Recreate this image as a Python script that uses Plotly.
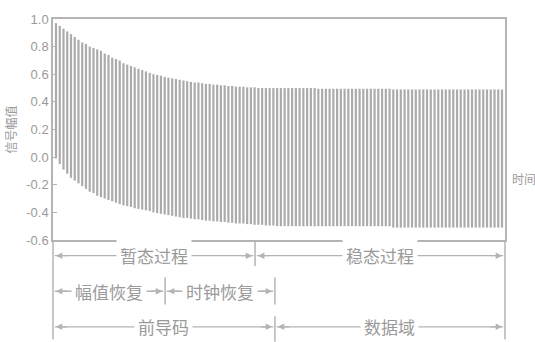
import plotly.graph_objects as go

# ---- data (one vertical stroke per signal cycle) ----
upper_peaks = (
    [0.97, 0.95, 0.93, 0.91, 0.89, 0.87, 0.85, 0.83, 0.82, 0.80,
     0.79, 0.78, 0.77, 0.75, 0.74, 0.72, 0.71, 0.70, 0.68, 0.67,
     0.66, 0.65, 0.64, 0.63, 0.62, 0.61, 0.60, 0.595, 0.59, 0.58,
     0.575, 0.57, 0.565, 0.56, 0.555, 0.55, 0.545, 0.54, 0.54, 0.535,
     0.53, 0.53, 0.525, 0.525, 0.52, 0.52, 0.515, 0.515, 0.51, 0.51,
     0.51, 0.505, 0.505, 0.505, 0.50, 0.50, 0.50, 0.50, 0.50, 0.50]
    + [0.50] * 10 + [0.495] * 20 + [0.49] * 30
)
lower_peaks = (
    [-0.01, -0.05, -0.09, -0.12, -0.15, -0.17, -0.19, -0.21, -0.23, -0.25,
     -0.26, -0.28, -0.29, -0.30, -0.31, -0.32, -0.33, -0.34, -0.35, -0.355,
     -0.36, -0.37, -0.375, -0.38, -0.385, -0.39, -0.40, -0.405, -0.41, -0.415,
     -0.42, -0.425, -0.43, -0.435, -0.44, -0.44, -0.445, -0.45, -0.45, -0.455,
     -0.46, -0.46, -0.465, -0.465, -0.47, -0.47, -0.475, -0.475, -0.48, -0.48,
     -0.48, -0.485, -0.485, -0.49, -0.49, -0.49, -0.495, -0.495, -0.495, -0.50]
    + [-0.50] * 30 + [-0.51] * 30
)
y_tick_vals = [1.0, 0.8, 0.6, 0.4, 0.2, 0.0, -0.2, -0.4, -0.6]
y_tick_text = ["1.0", "0.8", "0.6", "0.4", "0.2", "0.0", "-0.2", "-0.4", "-0.6"]

y_title = "信号幅值"
x_title = "时间"
row1_labels = ["暂态过程", "稳态过程"]
row2_labels = ["幅值恢复", "时钟恢复"]
row3_labels = ["前导码", "数据域"]

# ---- build the vertical strokes ----
xs, ys = [], []
for i, (hi, lo) in enumerate(zip(upper_peaks, lower_peaks)):
    xs += [i, i, None]
    ys += [lo, hi, None]

GRAY = "#ababab"
LINE = "#b4b4b4"
TEXT = "#9a9a9a"
CJK = "Noto Sans CJK SC"

fig = go.Figure()
fig.add_trace(go.Scatter(x=xs, y=ys, mode="lines",
                         line=dict(color=GRAY, width=2.2),
                         hoverinfo="skip", showlegend=False))

n = len(upper_peaks)
fig.update_xaxes(range=[-0.8, n - 0.2], showgrid=False, zeroline=False,
                 showticklabels=False, ticks="", showline=True, mirror=True,
                 linecolor=LINE, linewidth=1.5)
fig.update_yaxes(range=[-0.6, 1.0], tickvals=y_tick_vals, ticktext=y_tick_text,
                 showgrid=False, zeroline=False, showline=True, mirror=True,
                 linecolor=LINE, linewidth=1.5, ticks="inside", ticklen=4,
                 tickcolor=LINE, tickfont=dict(family="Liberation Sans", size=13, color=TEXT))

shapes = []
def vline(px, y0, y1, w=1.5):
    shapes.append(dict(type="line", xref="paper", yref="paper", x0=px, x1=px,
                       y0=y0, y1=y1, line=dict(color=LINE, width=w)))
def hline(x0, x1, y):
    shapes.append(dict(type="line", xref="paper", yref="paper", x0=x0, x1=x1,
                       y0=y, y1=y, line=dict(color=LINE, width=1.3)))

# frame extensions below the plot
vline(0, 0, -0.45)
vline(1, 0, -0.45)

annotations = []
def arrow(x_tip, y, direction):
    annotations.append(dict(xref="paper", yref="paper", x=x_tip, y=y, text="",
                            showarrow=True, arrowhead=2, arrowsize=1.0, arrowwidth=1.3,
                            arrowcolor=LINE, ax=-14 * direction, ay=0,
                            axref="pixel", ayref="pixel", standoff=1))
def label(x, y, t):
    annotations.append(dict(xref="paper", yref="paper", x=x, y=y, text=t,
                            showarrow=False, bgcolor="white", borderpad=3,
                            font=dict(family=CJK, size=17, color=TEXT),
                            xanchor="center", yanchor="middle"))
def span(x0, x1, y, t):
    hline(x0 + 0.004, x1 - 0.004, y)
    arrow(x0 + 0.004, y, -1)
    arrow(x1 - 0.004, y, 1)
    label((x0 + x1) / 2, y, t)

r1, r2, r3 = -0.071, -0.232, -0.393
b1, b2, b3 = 0.447, 0.248, 0.491

span(0, b1, r1, row1_labels[0])
span(b1, 1, r1, row1_labels[1])
vline(b1, 0, -0.118)

span(0, b2, r2, row2_labels[0])
span(b2, b3, r2, row2_labels[1])
vline(b2, -0.17, -0.292)
vline(b3, -0.17, -0.292)

span(0, b3, r3, row3_labels[0])
span(b3, 1, r3, row3_labels[1])
vline(b3, -0.345, -0.46)

annotations.append(dict(xref="paper", yref="paper", x=-0.095, y=0.5, text=y_title,
                        textangle=-90, showarrow=False,
                        font=dict(family=CJK, size=12, color=TEXT),
                        xanchor="center", yanchor="middle"))
annotations.append(dict(xref="paper", yref="paper", x=1.01, y=0.277, text=x_title,
                        showarrow=False, font=dict(family=CJK, size=12, color=TEXT),
                        xanchor="left", yanchor="middle"))

fig.update_layout(width=535, height=342, margin=dict(l=53, r=30, t=16, b=102),
                  paper_bgcolor="white", plot_bgcolor="white",
                  shapes=shapes, annotations=annotations, showlegend=False)

fig.write_html("out.html")
